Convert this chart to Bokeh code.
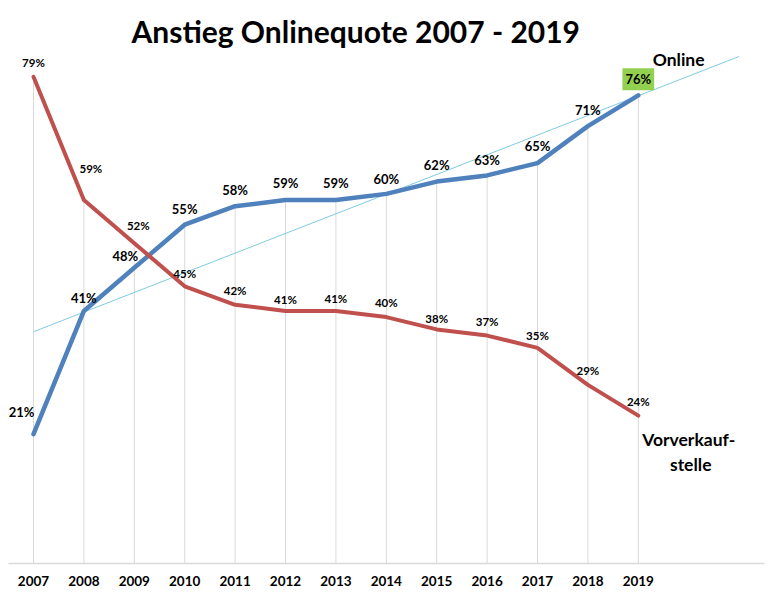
import numpy as np
from bokeh.plotting import figure
from bokeh.models import ColumnDataSource, FixedTicker, Label, Range1d
from bokeh.core.properties import value
from bokeh.embed import file_html
from bokeh.resources import INLINE

# ---- data ----
years = [2007, 2008, 2009, 2010, 2011, 2012, 2013, 2014, 2015, 2016, 2017, 2018, 2019]
online = [21, 41, 48, 55, 58, 59, 59, 60, 62, 63, 65, 71, 76]
vorverkauf = [79, 59, 52, 45, 42, 41, 41, 40, 38, 37, 35, 29, 24]
title_text = "Anstieg Onlinequote 2007 - 2019"
trend_forward = 2  # periods the linear trendline is extended

# ---- label offsets (styles, pixels) ----
online_dx = [-12, 0, -9, 0, 0, 0, 0, 0, 0, 0, 0, 0, 0]
online_dy = [-22, -13, -12, -16, -16, -17, -17, -15, -17, -15, -17, -16, -16]
vvk_dx = [0, 7, 4, 0, 0, 0, 0, 0, 0, 0, 0, 0, 0]
vvk_dy = [-14, -32, -18, -13, -14, -11, -12, -15, -11, -14, -12, -14, -14]

FONT = "Lato"
BLUE = "#4F81BD"
RED = "#C0504D"

p = figure(width=766, height=593, output_backend="svg", toolbar_location=None,
           x_range=Range1d(2006.504, 2021.504), y_range=Range1d(0, 83.6),
           min_border_left=8, min_border_right=2, min_border_top=48, min_border_bottom=30,
           y_axis_location=None)
p.outline_line_color = None
p.background_fill_color = "white"
p.border_fill_color = "white"
p.xgrid.visible = False
p.ygrid.visible = False

p.title.text = title_text
p.title.text_font = FONT
p.title.text_font_size = "30px"
p.title.text_font_style = "bold"
p.title.text_color = "black"
p.title.align = "left"
p.title.offset = 123
p.title.standoff = 0

xa = p.xaxis[0]
xa.ticker = FixedTicker(ticks=years)
xa.axis_line_color = "#D9D9D9"
xa.axis_line_width = 1.5
xa.major_tick_line_color = None
xa.minor_tick_line_color = None
xa.major_tick_out = 0
xa.major_tick_in = 0
xa.major_label_standoff = 12
xa.major_label_text_font = FONT
xa.major_label_text_font_style = "bold"
xa.major_label_text_font_size = "13.5px"
xa.major_label_text_color = "black"

# drop lines from axis to highest series value
drop_top = np.maximum(np.array(online), np.array(vorverkauf))
p.segment(x0=years, y0=[0] * len(years), x1=years, y1=drop_top,
          line_color="#D9D9D9", line_width=1)

# linear trendline of online share
idx = np.arange(len(years))
slope, intercept = np.polyfit(idx, np.array(online, dtype=float), 1)
tx = [years[0], years[-1] + trend_forward]
ty = [intercept, intercept + slope * (len(years) - 1 + trend_forward)]
p.line(tx, ty, line_color="#7FCBDF", line_width=1)

# series lines
p.line(years, online, line_color=BLUE, line_width=4.5, line_join="round", line_cap="round")
p.line(years, vorverkauf, line_color=RED, line_width=4, line_join="round", line_cap="round")

# data labels
src_on = ColumnDataSource(dict(x=years[:-1], y=online[:-1],
                               t=[f"{v}%" for v in online[:-1]],
                               dx=online_dx[:-1], dy=online_dy[:-1]))
p.text(x="x", y="y", text="t", x_offset="dx", y_offset="dy", source=src_on,
       text_font=value(FONT), text_font_style="bold", text_font_size="13px",
       text_color="black", text_align="center", text_baseline="middle")

src_last = ColumnDataSource(dict(x=years[-1:], y=online[-1:],
                                 t=[f"{v}%" for v in online[-1:]],
                                 dx=online_dx[-1:], dy=online_dy[-1:]))
p.text(x="x", y="y", text="t", x_offset="dx", y_offset="dy", source=src_last,
       text_font=value(FONT), text_font_style="bold", text_font_size="13px",
       text_color="black", text_align="center", text_baseline="middle",
       background_fill_color="#92D050", padding=3)

src_v = ColumnDataSource(dict(x=years, y=vorverkauf,
                              t=[f"{v}%" for v in vorverkauf],
                              dx=vvk_dx, dy=vvk_dy))
p.text(x="x", y="y", text="t", x_offset="dx", y_offset="dy", source=src_v,
       text_font=value(FONT), text_font_style="bold", text_font_size="11.5px",
       text_color="black", text_align="center", text_baseline="middle")

# series name labels
for txt, x, y in [("Online", 2019.80, 81.8), ("Vorverkauf-", 2020.0, 20.05), ("stelle", 2020.04, 16.07)]:
    p.add_layout(Label(x=x, y=y, text=txt, text_font=FONT, text_font_style="bold",
                       text_font_size="17.5px", text_color="black",
                       text_align="center", text_baseline="middle"))

open("out.html", "w").write(file_html(p, INLINE))
